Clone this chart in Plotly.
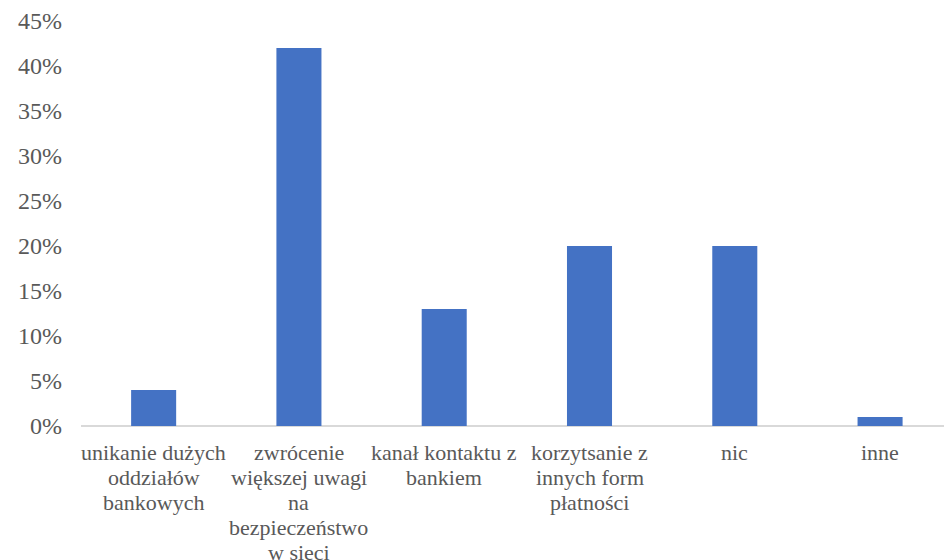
import plotly.graph_objects as go

# Survey answers (each label split into its printed lines)
categories = [
    ["unikanie dużych", "oddziałów", "bankowych"],
    ["zwrócenie", "większej uwagi", "na", "bezpieczeństwo", "w sieci"],
    ["kanał kontaktu z", "bankiem"],
    ["korzytsanie z", "innych form", "płatności"],
    ["nic"],
    ["inne"],
]
shares = [0.04, 0.42, 0.13, 0.20, 0.20, 0.01]
y_ticks = [0, 0.05, 0.10, 0.15, 0.20, 0.25, 0.30, 0.35, 0.40, 0.45]
y_tick_labels = ["0%", "5%", "10%", "15%", "20%", "25%", "30%", "35%", "40%", "45%"]

names = [" ".join(c) for c in categories]
serif = "Times New Roman"
grey = "#595959"

fig = go.Figure(
    go.Bar(x=names, y=shares, marker=dict(color="#4472C4", line=dict(width=0)),
           hoverinfo="skip")
)

# category labels, one line per annotation for a tight line spacing
annotations = []
for name, lines in zip(names, categories):
    for i, line in enumerate(lines):
        annotations.append(dict(
            x=name, xref="x", y=0, yref="paper", text=line, showarrow=False,
            xanchor="center", yanchor="middle", yshift=-(26 + 25 * i),
            font=dict(family=serif, size=22, color=grey),
        ))

fig.update_layout(
    width=944, height=560,
    margin=dict(l=81, r=0, t=21, b=134),
    paper_bgcolor="white", plot_bgcolor="white",
    font=dict(family=serif, color=grey),
    bargap=0.69,
    showlegend=False,
    annotations=annotations,
    xaxis=dict(
        type="category", range=[-0.5, 5.44], showticklabels=False,
        showgrid=False, zeroline=False, showline=False, ticks="",
    ),
    yaxis=dict(
        range=[0, 0.45], tickvals=y_ticks, ticktext=y_tick_labels,
        showgrid=False, showline=False, ticks="",
        zeroline=True, zerolinecolor="#D9D9D9", zerolinewidth=2,
        ticklabelstandoff=18,
        tickfont=dict(family=serif, size=24, color=grey),
    ),
)

fig.write_html("out.html")
